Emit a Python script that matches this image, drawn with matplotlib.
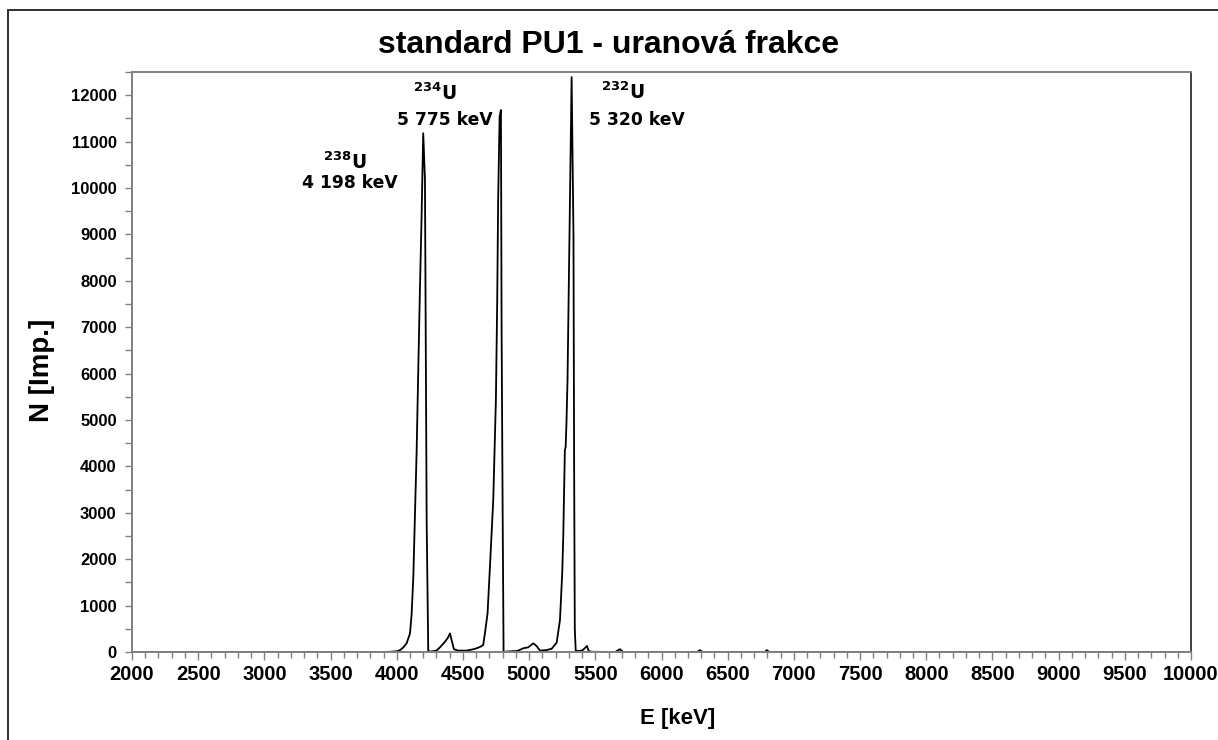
import matplotlib
matplotlib.use("Agg")
import matplotlib.pyplot as plt
from matplotlib.patches import Rectangle
from matplotlib.ticker import MultipleLocator

# spectrum (E in keV, N in counts)
energy = [2000, 3900, 3950, 4000, 4025, 4050, 4075, 4100, 4112, 4125, 4137, 4150,
          4162, 4175, 4187, 4200, 4213, 4226, 4238, 4260, 4300, 4326, 4364, 4385,
          4402, 4432, 4464, 4528, 4580, 4603, 4630, 4653, 4666, 4686, 4704, 4729,
          4749, 4759, 4766, 4777, 4787, 4792, 4800, 4807, 4830, 4900, 4918, 4956,
          4993, 5031, 5056, 5082, 5130, 5170, 5208, 5233, 5250, 5258, 5263, 5270,
          5276, 5282, 5290, 5305, 5321, 5335, 5340, 5345, 5352, 5400, 5420, 5437,
          5450, 5470, 5650, 5686, 5710, 6270, 6290, 6310, 6780, 6796, 6815, 10000]
counts = [0, 0, 5, 15, 40, 100, 190, 400, 800, 1600, 2900, 4300,
          6000, 7800, 9300, 11180, 10200, 2800, 20, 10, 30, 100, 220, 300,
          400, 60, 30, 30, 60, 80, 110, 150, 400, 834, 1838, 3276,
          5430, 7586, 9741, 11536, 11680, 7000, 3000, 0, 10, 20, 30, 80,
          100, 187, 130, 30, 40, 70, 200, 690, 1700, 2500, 3280, 4350,
          4420, 4930, 5860, 9000, 12390, 9000, 4000, 500, 20, 30, 80, 130,
          20, 5, 0, 60, 0, 0, 40, 0, 0, 40, 0, 0]

# peak labels
iso_labels = ["$\\mathbf{^{238}U}$", "$\\mathbf{^{234}U}$", "$\\mathbf{^{232}U}$"]
iso_pos = [(3609, 10560), (4289, 12046), (5708, 12068)]
kev_labels = ["4 198 keV", "5 775 keV", "5 320 keV"]
kev_pos = [(3647, 10107), (4364, 11465), (5814, 11465)]

plt.rcParams['font.family'] = ['Liberation Sans', 'DejaVu Sans']
plt.rcParams['mathtext.fontset'] = 'dejavusans'

fig = plt.figure(figsize=(12.18, 7.4), dpi=100)
ax = fig.add_axes([132/1218, 1-652/740, (1191-132)/1218, (652-72)/740])

ax.plot(energy, counts, color="black", lw=1.3)

ax.set_xlim(2000, 10000)
ax.set_ylim(0, 12500)
ax.xaxis.set_major_locator(MultipleLocator(500))
ax.xaxis.set_minor_locator(MultipleLocator(100))
ax.yaxis.set_major_locator(MultipleLocator(1000))
ax.yaxis.set_minor_locator(MultipleLocator(500))

ax.tick_params(which="both", direction="out", color="#808080", width=1)
ax.tick_params(axis="x", which="major", length=6, pad=3)
ax.tick_params(axis="x", which="minor", length=4)
ax.tick_params(axis="y", which="major", length=5, pad=6)
ax.tick_params(axis="y", which="minor", length=5)
for lab in ax.get_xticklabels():
    lab.set_fontsize(14.5)
    lab.set_fontweight("bold")
for lab in ax.get_yticklabels():
    lab.set_fontsize(12)
    lab.set_fontweight("bold")

for side in ["left", "bottom", "top"]:
    ax.spines[side].set_color("#808080")
    ax.spines[side].set_linewidth(1.4)
ax.spines["right"].set_color("#404040")
ax.spines["right"].set_linewidth(1.4)

ax.set_xlabel("E [keV]", fontsize=16, fontweight="bold")
ax.set_ylabel("N [Imp.]", fontsize=20, fontweight="bold")
ax.xaxis.set_label_coords(0.515, -0.096)
ax.yaxis.set_label_coords(-0.073, 0.486)

for txt, (x, y) in zip(iso_labels, iso_pos):
    ax.text(x, y, txt, ha="center", va="center", fontsize=13.5)
for txt, (x, y) in zip(kev_labels, kev_pos):
    ax.text(x, y, txt, ha="center", va="center", fontsize=12.3,
            fontweight="bold", family="DejaVu Sans")

fig.text(0.5, 1-45/740, "standard PU1 - uranová frakce", ha="center", va="center",
         fontsize=23, fontweight="bold")

# outer frame (only left and top edges visible)
fig.patches.append(Rectangle((8/1218, -0.1), 1.2, 1.1 - 10/740, transform=fig.transFigure,
                             fill=False, edgecolor="#303030", lw=1.4, clip_on=False))

fig.savefig("out.png", dpi=100)
